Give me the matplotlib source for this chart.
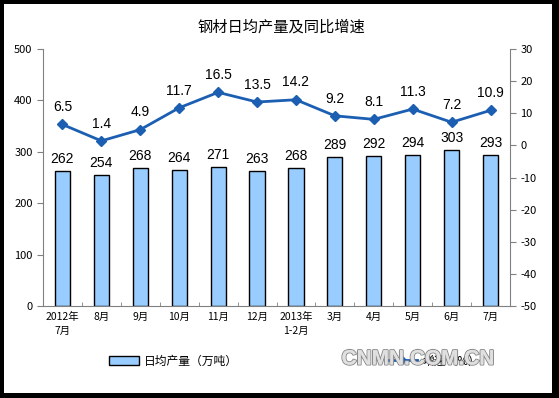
import matplotlib
matplotlib.use("Agg")
import matplotlib.pyplot as plt
import matplotlib.patheffects as pe
from matplotlib.patches import Rectangle, Patch
from matplotlib.lines import Line2D
import numpy as np

plt.rcParams['font.family'] = ['Noto Sans CJK SC', 'DejaVu Sans']
plt.rcParams['axes.unicode_minus'] = False

categories = ["2012年\n7月", "8月", "9月", "10月", "11月", "12月", "2013年\n1-2月",
              "3月", "4月", "5月", "6月", "7月"]
output = [262, 254, 268, 264, 271, 263, 268, 289, 292, 294, 303, 293]
growth = [6.5, 1.4, 4.9, 11.7, 16.5, 13.5, 14.2, 9.2, 8.1, 11.3, 7.2, 10.9]
title = "钢材日均产量及同比增速"
bar_label = "日均产量（万吨）"
line_label = "增速（%）"

fig = plt.figure(figsize=(5.59, 3.98), dpi=100)
fig.patch.set_facecolor('black')
fig.patches.append(Rectangle((4/559, 5/398), (552-4)/559, (394-5)/398,
                             transform=fig.transFigure, facecolor='white',
                             edgecolor='none', zorder=-10))

ax = fig.add_axes([43/559, 1-306/398, (510-43)/559, (306-49)/398])
ax.set_facecolor('none')
x = np.arange(len(categories))
ax.bar(x, output, width=0.39, color='#99ccff', edgecolor='black', linewidth=1.0, zorder=2)
ax.set_xlim(-0.5, len(categories)-0.5)
ax.set_ylim(0, 500)
ax.set_yticks(range(0, 501, 100))
for xi, v in zip(x, output):
    ax.text(xi, v + 10, str(v), ha='center', va='bottom', fontsize=10,
            family=['Liberation Sans'], color='black')

ax.set_xticks(x)
ax.set_xticklabels(categories, fontsize=7.5, linespacing=1.5)
ax.set_xticks(np.arange(-0.5, len(categories), 1), minor=True)
ax.tick_params(axis='x', which='major', length=0, pad=4)
ax.tick_params(axis='x', which='minor', length=3, direction='in', color='#808080')
ax.tick_params(axis='y', labelsize=8, length=4, direction='out', color='#808080')
for s in ['top', 'right']:
    ax.spines[s].set_visible(False)
for s in ['left', 'bottom']:
    ax.spines[s].set_color('#808080')

ax2 = ax.twinx()
ax2.set_ylim(-50, 30)
ax2.set_yticks(range(-50, 31, 10))
ax2.plot(x, growth, color='#1c5fb2', linewidth=2, marker='D', markersize=5, zorder=3)
for xi, v in zip(x, growth):
    ax2.text(xi, v + 3.2, f"{v}", ha='center', va='bottom', fontsize=10,
             family=['Liberation Sans'], color='black')
ax2.tick_params(axis='y', labelsize=8, length=4, direction='out', color='#808080')
for s in ['top', 'left', 'bottom']:
    ax2.spines[s].set_visible(False)
ax2.spines['right'].set_color('#808080')

fig.text(281/559, 1-27/398, title, ha='center', va='center', fontsize=11)

handles = [Patch(facecolor='#99ccff', edgecolor='black', linewidth=1.0, label=bar_label),
           Line2D([0], [0], color='#1c5fb2', linewidth=2, marker='D', markersize=4, label=line_label)]
leg = fig.legend(handles=handles, loc='center left', bbox_to_anchor=(98/559, 1-361/398), ncol=2,
                 frameon=False, fontsize=8.5, columnspacing=12.6, handlelength=2.6,
                 handletextpad=0.4)
leg.set_zorder(5)

fig.text(418/559, 1-359/398, "CNMN.COM.CN", ha='center', va='center', fontsize=15,
         family=['Liberation Sans'], color='#e0e0e0', fontweight='bold', zorder=20,
         path_effects=[pe.withStroke(linewidth=1.5, foreground='#8c8c8c'), pe.Normal()])

fig.savefig('out.png', dpi=100, facecolor=fig.get_facecolor())
